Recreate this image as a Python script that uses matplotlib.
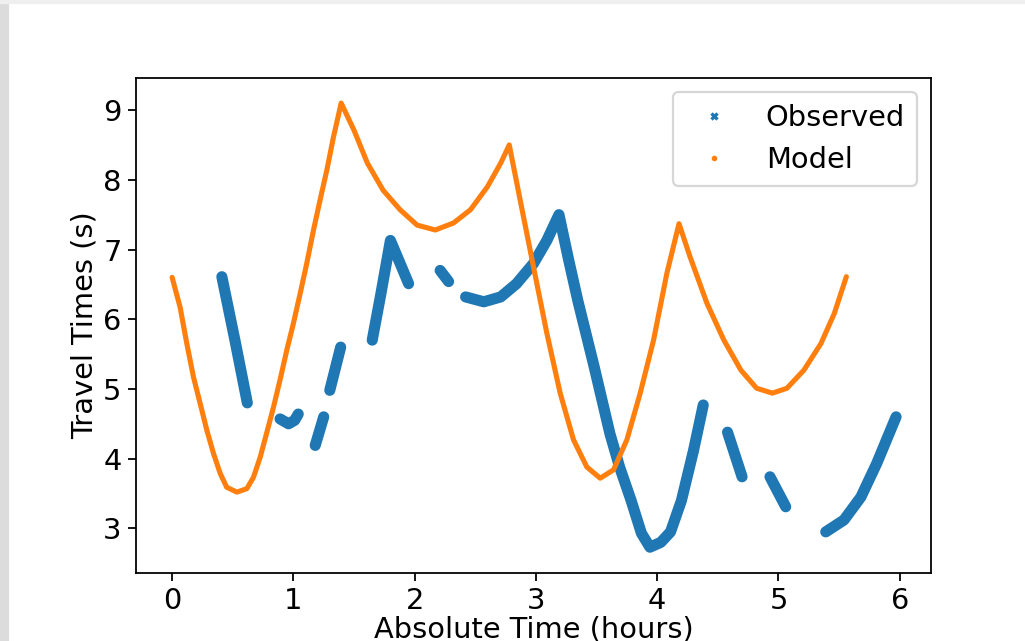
import matplotlib
matplotlib.use("Agg")
import matplotlib.pyplot as plt
from matplotlib.lines import Line2D
from matplotlib.patches import Rectangle

# ── Data (hours, seconds) ───────────────────────────────────────────────────
model_t = [0.00, 0.066, 0.12, 0.176, 0.23, 0.286, 0.34, 0.396, 0.45, 0.534,
           0.616, 0.67, 0.726, 0.78, 0.836, 0.89, 0.946, 1.00, 1.056, 1.11,
           1.166, 1.22, 1.276, 1.33, 1.394, 1.50, 1.61, 1.74, 1.88, 2.02,
           2.17, 2.32, 2.46, 2.60, 2.71, 2.78, 2.87, 2.98, 3.09, 3.20, 3.31,
           3.42, 3.53, 3.64, 3.75, 3.86, 3.97, 4.08, 4.18, 4.27, 4.41, 4.55,
           4.69, 4.82, 4.95, 5.07, 5.21, 5.35, 5.46, 5.56]
model_s = [6.60, 6.17, 5.66, 5.17, 4.80, 4.41, 4.08, 3.79, 3.59, 3.52,
           3.57, 3.73, 4.02, 4.37, 4.74, 5.13, 5.56, 5.94, 6.37, 6.80,
           7.28, 7.71, 8.14, 8.61, 9.10, 8.71, 8.24, 7.85, 7.57, 7.35,
           7.28, 7.38, 7.57, 7.90, 8.24, 8.50, 7.71, 6.75, 5.80, 4.94, 4.27,
           3.88, 3.72, 3.84, 4.27, 4.94, 5.70, 6.66, 7.37, 6.90, 6.23, 5.70,
           5.27, 5.01, 4.94, 5.01, 5.27, 5.65, 6.08, 6.61]

obs_t = [
    [0.41, 0.52, 0.62],
    [0.89, 0.96, 1.01, 1.04],
    [1.18, 1.25],
    [1.30, 1.39],
    [1.65, 1.72, 1.80, 1.88, 1.95],
    [2.21, 2.28],
    [2.42, 2.57, 2.71, 2.84, 2.98, 3.09, 3.19, 3.27, 3.345, 3.48, 3.61,
     3.69, 3.785, 3.87, 3.94, 4.03, 4.11, 4.20, 4.30, 4.38],
    [4.58, 4.70],
    [4.93, 5.06],
    [5.39, 5.54, 5.68, 5.81, 5.97],
]
obs_s = [
    [6.61, 5.68, 4.80],
    [4.57, 4.50, 4.55, 4.64],
    [4.19, 4.60],
    [4.98, 5.60],
    [5.70, 6.35, 7.13, 6.80, 6.51],
    [6.70, 6.54],
    [6.32, 6.25, 6.32, 6.51, 6.80, 7.13, 7.50, 6.85, 6.27, 5.32, 4.36,
     3.88, 3.40, 2.93, 2.73, 2.80, 2.95, 3.40, 4.12, 4.77],
    [4.38, 3.74],
    [3.74, 3.31],
    [2.95, 3.12, 3.45, 3.93, 4.60],
]

BLUE = "#1f77b4"
ORANGE = "#ff7f0e"

fig = plt.figure(figsize=(1025 / 160, 641 / 160), dpi=160)
# screenshot frame (grey strips at left and top)
fig.patches.append(Rectangle((0, 0), 8 / 1025, 1, transform=fig.transFigure,
                             color="#dcdcdc", zorder=-10))
fig.patches.append(Rectangle((0, 1 - 3 / 641), 1, 3 / 641,
                             transform=fig.transFigure, color="#efefef",
                             zorder=-10))

ax = fig.add_axes([136 / 1025, 1 - 573 / 641, 795 / 1025, 495 / 641])

for t, s in zip(obs_t, obs_s):
    ax.plot(t, s, "-", color=BLUE, lw=5.0, solid_capstyle="round",
            solid_joinstyle="round")
ax.plot(model_t, model_s, "-", color=ORANGE, lw=2.3, solid_capstyle="round",
        solid_joinstyle="round")

ax.set_xlim(-0.298, 6.258)
ax.set_ylim(2.36, 9.46)
ax.set_xticks(range(7))
ax.set_yticks(range(3, 10))
ax.tick_params(labelsize=13, pad=3)
ax.set_xlabel("Absolute Time (hours)", fontsize=13, labelpad=0)
ax.set_ylabel("Travel Times (s)", fontsize=13, labelpad=2)

handles = [
    Line2D([], [], ls="none", marker="x", color=BLUE, markersize=3,
           markeredgewidth=1.5, label="Observed"),
    Line2D([], [], ls="none", marker=".", color=ORANGE, markersize=3,
           label="Model"),
]
ax.legend(handles=handles, loc="upper right", fontsize=13)

plt.savefig("out.png", dpi=160)
plt.close()
